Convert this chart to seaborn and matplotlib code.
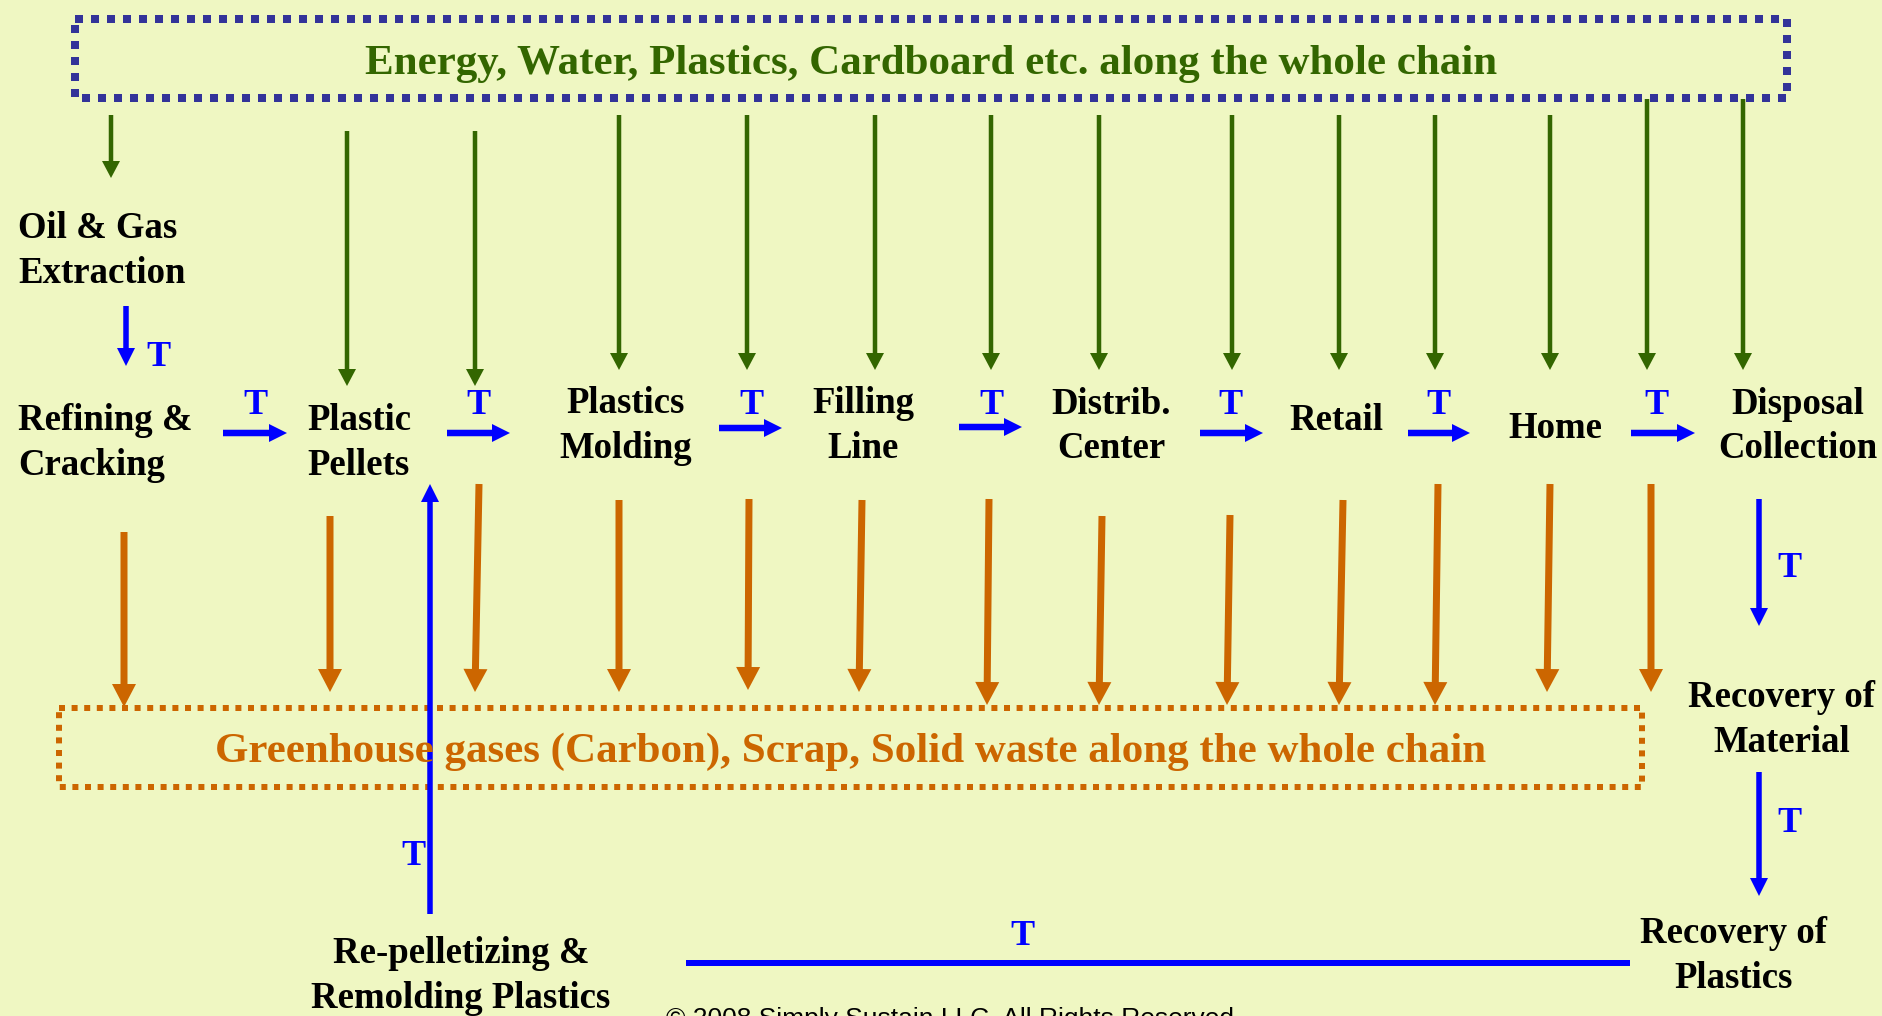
import matplotlib
matplotlib.use("Agg")
import matplotlib.pyplot as plt
import seaborn as sns
import pandas as pd
from matplotlib.patches import FancyArrowPatch, Rectangle

sns.set_theme(style="white")
plt.rcParams["font.family"] = ["Liberation Serif", "DejaVu Serif"]

W, H = 1883, 1016
BG = "#EFF7C2"
GREEN = "#336600"
ORANGE = "#CC6600"
BLUE = "#0000FF"
NAVY = "#333399"

# ---------------- data ----------------
top_text = "Energy, Water, Plastics, Cardboard etc. along the whole chain"
bottom_text = "Greenhouse gases (Carbon), Scrap, Solid waste along the whole chain"
copyright_text = "\u00a9 2008 Simply Sustain LLC. All Rights Reserved."

# stage labels: one entry per text line
label_text = ["Oil & Gas", "Extraction", "Refining &", "Cracking", "Plastic", "Pellets",
              "Plastics", "Molding", "Filling", "Line", "Distrib.", "Center",
              "Retail", "Home", "Disposal", "Collection",
              "Recovery of", "Material", "Recovery of", "Plastics",
              "Re-pelletizing &", "Remolding Plastics"]
label_x = [18, 18, 18, 18, 307, 307, 626, 626, 863, 863, 1111, 1111,
           1336, 1555, 1798, 1798, 1782, 1782, 1734, 1734, 461, 461]
label_y = [238, 283, 430, 475, 430, 475, 413, 458, 413, 458, 414, 458,
           430, 438, 414, 458, 707, 752, 943, 988, 963, 1008]
label_ha = ["left"] * 6 + ["center"] * 16

# green input arrows (from the top box)
green_x = [111, 347, 475, 619, 747, 875, 991, 1099, 1232, 1339, 1435, 1550, 1647, 1743]
green_top = [115, 131, 131, 115, 115, 115, 115, 115, 115, 115, 115, 115, 99, 99]
green_tip = [178, 386, 386, 370, 370, 370, 370, 370, 370, 370, 370, 370, 370, 370]

# orange output arrows (to the bottom box)
orange_x_top = [124, 330, 479, 619, 749, 862, 989, 1102, 1230, 1343, 1438, 1550, 1651]
orange_x_tip = [124, 330, 475, 619, 748, 859, 987, 1099, 1227, 1339, 1435, 1547, 1651]
orange_top = [532, 516, 484, 500, 499, 500, 499, 516, 515, 500, 484, 484, 484]
orange_tip = [707, 692, 692, 692, 690, 692, 705, 705, 705, 705, 705, 692, 692]

# blue horizontal transport arrows
th_x0 = [223, 447, 719, 959, 1200, 1408, 1631]
th_x1 = [287, 510, 782, 1022, 1263, 1470, 1695]
th_y = [433, 433, 428, 427, 433, 433, 433]
th_label_x = [255, 478, 751, 991, 1230, 1438, 1656]

# blue vertical transport arrows
tv_x = [126, 1759, 1759, 430]
tv_y0 = [306, 499, 772, 914]
tv_y1 = [366, 626, 896, 484]
tv_label_x = [158, 1789, 1789, 413]
tv_label_y = [366, 577, 832, 865]

# return line (Recovery of Plastics -> Re-pelletizing)
ret_x = [686, 1630]
ret_y = [963, 963]
ret_label = (1022, 945)

# dotted boxes
top_box = (75, 19, 1787, 98)
bottom_box = (59, 708, 1642, 787)

# ---------------- figure ----------------
fig = plt.figure(figsize=(W / 100, H / 100), dpi=100, facecolor=BG)
ax = fig.add_axes([0, 0, 1, 1])
ax.set_facecolor(BG)

PX = 0.72  # pixels -> points at 100 dpi

# return line drawn with seaborn
ret_df = pd.DataFrame({"x": ret_x, "y": ret_y})
sns.lineplot(data=ret_df, x="x", y="y", ax=ax, color=BLUE, lw=6 * PX,
             solid_capstyle="butt", legend=False)
ax.set_xlim(0, W)
ax.set_ylim(H, 0)
ax.axis("off")


def arrow(x0, y0, x1, y1, color, tail, hw, hl):
    p = FancyArrowPatch((x0, y0), (x1, y1),
                        arrowstyle=f"simple,head_length={hl * PX},head_width={hw * PX},tail_width={tail * PX}",
                        mutation_scale=1, color=color, lw=0, shrinkA=0, shrinkB=0)
    ax.add_patch(p)


# boxes
x0, y0, x1, y1 = top_box
ax.add_patch(Rectangle((x0, y0), x1 - x0, y1 - y0, fill=False, ec=NAVY,
                       lw=8 * PX, ls=(0, (1.0, 1.0))))
ax.text(931, 74, top_text, ha="center", va="baseline", fontsize=31,
        fontweight="bold", color=GREEN)

x0, y0, x1, y1 = bottom_box
ax.add_patch(Rectangle((x0, y0), x1 - x0, y1 - y0, fill=False, ec=ORANGE,
                       lw=6 * PX, ls=(0, (1.0, 1.1))))
ax.text(851, 762, bottom_text, ha="center", va="baseline", fontsize=31,
        fontweight="bold", color=ORANGE)

# green arrows
for x, a, b in zip(green_x, green_top, green_tip):
    arrow(x, a, x, b, GREEN, 4.5, 18, 17)

# orange arrows
for xa, xb, a, b in zip(orange_x_top, orange_x_tip, orange_top, orange_tip):
    arrow(xa, a, xb, b, ORANGE, 7, 24, 23)

# blue horizontal arrows with T
for a, b, y, tx in zip(th_x0, th_x1, th_y, th_label_x):
    arrow(a, y, b, y, BLUE, 6.5, 18, 18)
    ax.text(tx, 414, "T", ha="center", va="baseline", fontsize=26,
            fontweight="bold", color=BLUE)

# blue vertical arrows with T
for x, a, b, tx, ty in zip(tv_x, tv_y0, tv_y1, tv_label_x, tv_label_y):
    arrow(x, a, x, b, BLUE, 5.5, 18, 18)
    ax.text(tx, ty, "T", ha="center", va="baseline", fontsize=26,
            fontweight="bold", color=BLUE)

ax.text(ret_label[0], ret_label[1], "T", ha="center", va="baseline", fontsize=26,
        fontweight="bold", color=BLUE)

# stage labels
for s, x, y, ha in zip(label_text, label_x, label_y, label_ha):
    ax.text(x, y, s, ha=ha, va="baseline", fontsize=26.5, fontweight="bold", color="black")

# copyright (cut by the lower edge as in the original)
ax.text(666, 1007, copyright_text, ha="left", va="top", fontsize=19,
        family="Liberation Sans", color="black")

fig.savefig("out.png", dpi=100, facecolor=BG)
